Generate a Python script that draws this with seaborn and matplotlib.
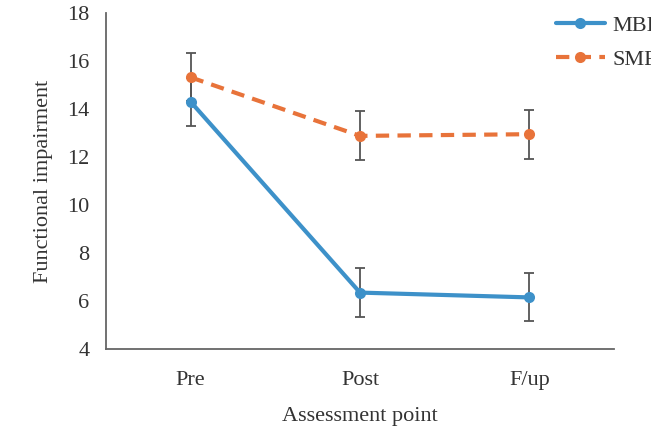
import pandas as pd
import numpy as np
import matplotlib
matplotlib.use('Agg')
import matplotlib.pyplot as plt
from matplotlib.lines import Line2D
import seaborn as sns

# dados
pontos = ['Pre', 'Post', 'F/up']
mbi = [14.3, 6.35, 6.15]
mbi_err = [1.0, 1.02, 1.0]
smf = [15.32, 12.88, 12.95]
smf_err = [1.0, 1.02, 1.02]
grupos = ['MBI', 'SMF']

sns.set_style('white')
plt.rcParams['font.family'] = ['Liberation Serif', 'DejaVu Serif']

cores = {'MBI': '#3d91c9', 'SMF': '#e8733a'}
fs = 16

df = pd.DataFrame({
    'x': list(range(len(pontos))) * 2,
    'Valor': mbi + smf,
    'Erro': mbi_err + smf_err,
    'Grupo': [grupos[0]] * 3 + [grupos[1]] * 3,
})

fig = plt.figure(figsize=(6.51, 4.32), dpi=100)
ax = fig.add_axes([106/651, 1-349/432, (614-106)/651, (349-13)/432])

# barras de erro
for g in grupos:
    d = df[df['Grupo'] == g]
    ax.errorbar(d['x'], d['Valor'], yerr=d['Erro'], fmt='none',
                ecolor='#555555', elinewidth=1.3, capsize=3.5, capthick=1.3, zorder=1)

sns.lineplot(data=df, x='x', y='Valor', hue='Grupo', style='Grupo',
             palette=cores, dashes={'MBI': '', 'SMF': (3.2, 2.0)},
             markers={'MBI': 'o', 'SMF': 'o'}, markersize=8, markeredgewidth=0,
             linewidth=3, ax=ax, zorder=3, legend=False)

ax.set_xlim(-0.5, 2.5)
ax.set_ylim(4, 18)
ax.set_xticks(range(len(pontos)))
ax.set_xticklabels(pontos)
ax.set_yticks(np.arange(4, 19, 2))
ax.tick_params(direction='in', length=5, width=1, color='#555555',
               labelsize=fs, labelcolor='#333333', pad=12)
ax.tick_params(axis='x', pad=16)
for s in ['top', 'right']:
    ax.spines[s].set_visible(False)
for s in ['left', 'bottom']:
    ax.spines[s].set_color('#666666')
    ax.spines[s].set_linewidth(1.3)

ax.set_xlabel('Assessment point', fontsize=fs, color='#333333', labelpad=12)
ax.set_ylabel('Functional impairment', fontsize=fs, color='#333333', labelpad=10)

# legenda (cortada na borda direita, como no original)
handles = [
    Line2D([], [], color=cores['MBI'], lw=3, marker='o', markersize=8, markeredgewidth=0),
    Line2D([], [], color=cores['SMF'], lw=3, ls=(0, (3.2, 2.0)), marker='o', markersize=8, markeredgewidth=0),
]
fig.legend(handles, grupos, loc='upper left', bbox_to_anchor=(536/651, 1.01),
           frameon=False, fontsize=fs, handlelength=2.2, handletextpad=0.35,
           labelspacing=0.6, labelcolor='#333333')

fig.savefig('out.png', dpi=100)
